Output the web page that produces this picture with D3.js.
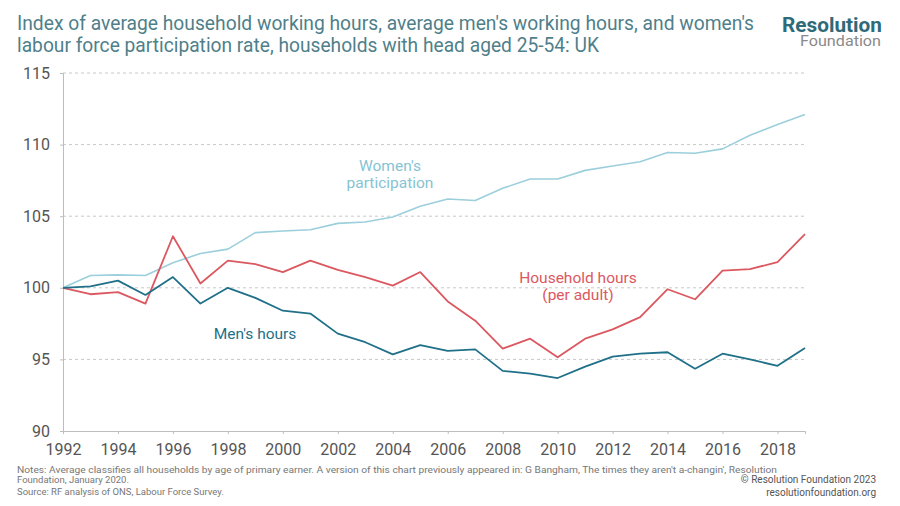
<!DOCTYPE html>
<html><head><meta charset="utf-8">
<script src="https://cdn.jsdelivr.net/npm/d3@7/dist/d3.min.js"></script>
<style>body{margin:0;background:#fff}svg{display:block}</style>
</head><body>
<svg id="c" width="900" height="506"></svg>
<script>
const years = d3.range(1992, 2020);
const mensHours = [100,100.1,100.5,99.5,100.75,98.9,100.0,99.3,98.4,98.2,96.8,96.2,95.35,96.0,95.6,95.7,94.2,94.0,93.7,94.5,95.2,95.4,95.5,94.35,95.4,95.0,94.55,95.8];
const householdHours = [100,99.55,99.7,98.9,103.6,100.3,101.9,101.65,101.1,101.9,101.25,100.75,100.15,101.1,99.05,97.7,95.75,96.45,95.15,96.45,97.1,97.95,99.9,99.2,101.2,101.3,101.8,103.75];
const womensParticipation = [100,100.86,100.9,100.86,101.75,102.4,102.7,103.85,103.97,104.05,104.5,104.6,104.95,105.7,106.2,106.1,106.95,107.6,107.6,108.2,108.5,108.8,109.45,109.4,109.7,110.65,111.4,112.1];
const yTicks = [90,95,100,105,110,115];
const xTicks = d3.range(1992, 2019, 2);
const titleLines = ["Index of average household working hours, average men's working hours, and women's",
                    "labour force participation rate, households with head aged 25-54: UK"];
const noteLines = ["Notes: Average classifies all households by age of primary earner. A version of this chart previously appeared in: G Bangham, The times they aren't a-changin', Resolution",
                   "Foundation, January 2020.",
                   "Source: RF analysis of ONS, Labour Force Survey."];

const svg = d3.select("#c");
const font = "Roboto,'Liberation Sans',sans-serif";
const x = d3.scaleLinear().domain([1992, 2019]).range([63, 805]);
const y = d3.scaleLinear().domain([90, 115]).range([431, 73]);

// title
svg.append("g").selectAll("text").data(titleLines).join("text")
  .attr("x", 17).attr("y", (d,i)=>30+i*22)
  .attr("font-family", font).attr("font-size", 20).attr("fill", "#4f7f8a")
  .attr("textLength", (d,i)=>[737,582][i]).attr("lengthAdjust","spacingAndGlyphs")
  .text(d=>d);

// logo
svg.append("text").attr("x", 782).attr("y", 31.5)
  .attr("font-family","Roboto,'Liberation Sans',sans-serif").attr("font-weight","bold")
  .attr("font-size", 19.5).attr("fill","#2e6a78")
  .attr("textLength", 100).attr("lengthAdjust","spacingAndGlyphs").text("Resolution");
svg.append("text").attr("x", 800).attr("y", 46)
  .attr("font-family", font).attr("font-size", 14.5).attr("fill","#8a8a8a")
  .attr("textLength", 81).attr("lengthAdjust","spacingAndGlyphs").text("Foundation");

// grid
svg.append("g").selectAll("line").data(yTicks.filter(d=>d>90)).join("line")
  .attr("x1", 63).attr("x2", 805).attr("y1", d=>y(d)).attr("y2", d=>y(d))
  .attr("stroke", "#c8c8c8").attr("stroke-dasharray","3,3").attr("stroke-width",1);

// y axis
const ya = svg.append("g").attr("transform","translate(63,0)")
  .call(d3.axisLeft(y).tickValues(yTicks).tickSize(3).tickPadding(10));
ya.select(".domain").attr("stroke","#bdbdbd");
ya.selectAll(".tick line").attr("stroke","#bdbdbd");
ya.selectAll("text").attr("font-family", font).attr("font-size", 16).attr("fill","#555");

// x axis
const xa = svg.append("g").attr("transform","translate(0,431)")
  .call(d3.axisBottom(x).tickValues(xTicks).tickFormat(d3.format("d")).tickSize(3).tickPadding(10));
xa.select(".domain").attr("stroke","#bdbdbd");
xa.selectAll(".tick line").attr("stroke","#bdbdbd");
xa.selectAll("text").attr("font-family", font).attr("font-size", 16).attr("fill","#555");

// lines
const series = [
  {vals: womensParticipation, color: "#9ccfdc", w: 1.6},
  {vals: householdHours, color: "#dc5860", w: 1.8},
  {vals: mensHours, color: "#1f7088", w: 1.8}
];
const line = d3.line().x((d,i)=>x(years[i])).y(d=>y(d));
svg.append("g").selectAll("path").data(series).join("path")
  .attr("d", d=>line(d.vals)).attr("fill","none")
  .attr("stroke", d=>d.color).attr("stroke-width", d=>d.w).attr("stroke-linejoin","round");

// labels
function label(lines, cx, y0, color){
  svg.append("g").selectAll("text").data(lines).join("text")
    .attr("x", cx).attr("y", (d,i)=>y0+i*17).attr("text-anchor","middle")
    .attr("font-family", font).attr("font-size", 15.5).attr("fill", color).text(d=>d);
}
label(["Women's","participation"], 390, 171, "#86c3d3");
label(["Household hours","(per adult)"], 578, 283, "#dc5860");
label(["Men's hours"], 255, 339, "#1f7088");

// footer
svg.append("g").selectAll("text").data(noteLines).join("text")
  .attr("x", 17).attr("y", (d,i)=>[473,483,495][i])
  .attr("font-family", font).attr("font-size", 9.5).attr("fill","#777")
  .attr("textLength", (d,i)=>[760,null,null][i]).attr("lengthAdjust","spacingAndGlyphs")
  .text(d=>d);
svg.append("text").attr("x", 876).attr("y", 483).attr("text-anchor","end")
  .attr("font-family", font).attr("font-size", 10).attr("fill","#555").text("© Resolution Foundation 2023");
svg.append("text").attr("x", 876).attr("y", 496).attr("text-anchor","end")
  .attr("font-family", font).attr("font-size", 10).attr("fill","#555").text("resolutionfoundation.org");
</script>
</body></html>
